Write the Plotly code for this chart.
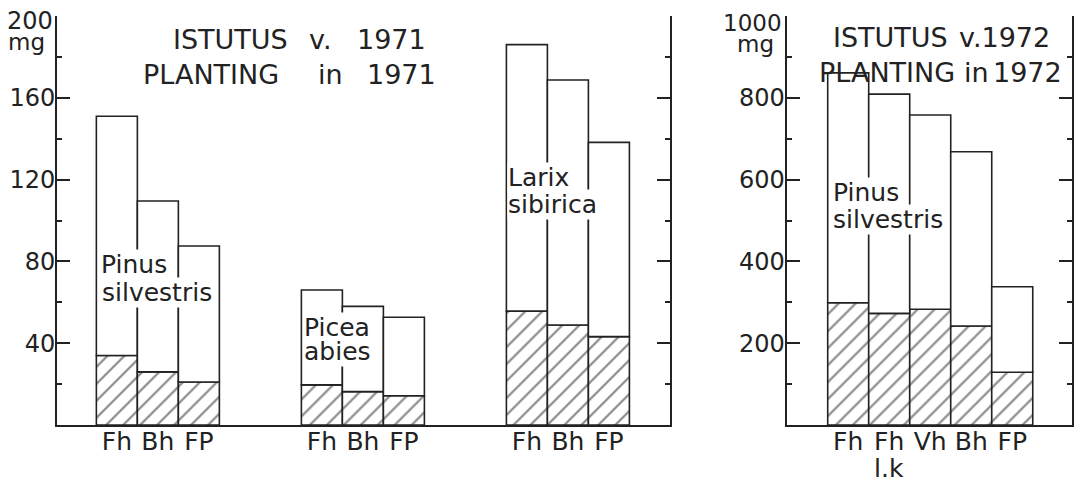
import plotly.graph_objects as go

# Dry mass (mg) per horizon; hatched part is the lower share of each bar
horizons_1971 = ["Fh", "Bh", "FP"]
pinus_1971_total = [151, 109.5, 87.5]
pinus_1971_hatched = [34, 26, 21]
picea_1971_total = [66, 58, 52.7]
picea_1971_hatched = [19.6, 16.3, 14.3]
larix_1971_total = [186, 168.7, 138.2]
larix_1971_hatched = [55.7, 48.9, 43.2]

horizons_1972 = ["Fh", "Fh", "Vh", "Bh", "FP"]
horizons_1972_sub = ["", "l.k", "", "", ""]
pinus_1972_total = [861, 809, 758, 668, 338]
pinus_1972_hatched = [299, 273, 283, 242, 129]

ytick_1971 = [40, 80, 120, 160, 200]
ytick_1972 = [200, 400, 600, 800, 1000]

W, H = 1080, 483
INK = "#222222"
FONT = "DejaVu Sans"


def px(x):
    return x / W


def py(y):
    return 1 - y / H


fig = go.Figure()


def add_bars(xs, totals, hatched, xaxis, yaxis):
    upper = [t - h for t, h in zip(totals, hatched)]
    fig.add_trace(go.Bar(
        x=xs, y=hatched, width=1, xaxis=xaxis, yaxis=yaxis,
        marker=dict(color="white", line=dict(color=INK, width=1.6),
                    pattern=dict(shape="/", fgcolor="#111111", bgcolor="white",
                                 size=12, solidity=0.18)),
        showlegend=False, hoverinfo="skip"))
    fig.add_trace(go.Bar(
        x=xs, y=upper, base=hatched, width=1, xaxis=xaxis, yaxis=yaxis,
        marker=dict(color="white", line=dict(color=INK, width=1.6)),
        showlegend=False, hoverinfo="skip"))


# 1971 panel: three species groups, spaced by two empty slots
groups_1971 = [
    (pinus_1971_total, pinus_1971_hatched),
    (picea_1971_total, picea_1971_hatched),
    (larix_1971_total, larix_1971_hatched),
]
xs_1971, labels_1971 = [], []
for gi, (tot, hat) in enumerate(groups_1971):
    xs = [gi * 5 + j for j in range(len(horizons_1971))]
    add_bars(xs, tot, hat, "x", "y")
    xs_1971 += xs
    labels_1971 += horizons_1971

xs_1972 = list(range(len(horizons_1972)))
add_bars(xs_1972, pinus_1972_total, pinus_1972_hatched, "x2", "y2")

axis_common = dict(showline=True, linecolor=INK, linewidth=2, showgrid=False,
                   zeroline=False, fixedrange=True, automargin=False)
ydom = [py(425), py(16)]

fig.update_layout(
    width=W, height=H, margin=dict(l=0, r=0, t=0, b=0),
    paper_bgcolor="white", plot_bgcolor="white", barmode="overlay",
    font=dict(family=FONT, color=INK),
    xaxis=dict(domain=[px(57), px(670)], range=[-1.46, 13.49], ticks="",
               tickvals=xs_1971, ticktext=labels_1971, anchor="y",
               tickfont=dict(size=25, family=FONT, color=INK),
               ticklabelstandoff=-7, **axis_common),
    yaxis=dict(domain=ydom, range=[0, 200], anchor="x", mirror="ticks",
               ticks="inside", ticklen=13, tickwidth=2, tickcolor=INK,
               tickvals=ytick_1971,
               ticktext=[str(v) for v in ytick_1971[:-1]] + [""],
               tickfont=dict(size=24, family=FONT, color=INK),
               ticklabelstandoff=-5,
               minor=dict(ticks="inside", ticklen=5, tickwidth=1.5,
                          tickcolor=INK, dtick=20, tick0=0, showgrid=False),
               **axis_common),
    xaxis2=dict(domain=[px(786.7), px(1071.7)], range=[-1.5, 5.45], ticks="",
                tickvals=xs_1972, ticktext=horizons_1972, anchor="y2",
                tickfont=dict(size=25, family=FONT, color=INK),
                ticklabelstandoff=-7, **axis_common),
    yaxis2=dict(domain=ydom, range=[0, 1000], anchor="x2", mirror="ticks",
                ticks="inside", ticklen=13, tickwidth=2, tickcolor=INK,
                tickvals=ytick_1972,
                ticktext=[str(v) for v in ytick_1972[:-1]] + [""],
                tickfont=dict(size=24, family=FONT, color=INK),
                ticklabelstandoff=-5,
                minor=dict(ticks="inside", ticklen=5, tickwidth=1.5,
                           tickcolor=INK, dtick=100, tick0=0, showgrid=False),
                **axis_common),
)


def note(text, x, yc, size, anchor="left", bg=None):
    fig.add_annotation(text=text, x=px(x), y=py(yc), xref="paper", yref="paper",
                       xanchor=anchor, yanchor="middle", showarrow=False,
                       font=dict(size=size, family=FONT, color=INK),
                       bgcolor=bg if bg else "rgba(0,0,0,0)", borderpad=0)


# Second line of the horizon labels
for xv, sub in zip(xs_1972, horizons_1972_sub):
    if sub:
        fig.add_annotation(text=sub, x=xv, xref="x2", y=py(468.5), yref="paper",
                           xanchor="center", yanchor="middle", showarrow=False,
                           font=dict(size=25, family=FONT, color=INK))

# Axis top labels with unit
note(str(ytick_1971[-1]), 54, 21.5, 24, "right")
note("mg", 7, 42, 23)
note(str(ytick_1972[-1]), 783, 22.5, 23, "right")
note("mg", 736, 44, 23)

# Panel headings
note("ISTUTUS", 172, 40, 27)
note("v.", 308, 40, 27)
note("1971", 356, 40, 27)
note("PLANTING", 142, 74, 27)
note("in", 317, 74, 27)
note("1971", 366, 74, 27)
note("ISTUTUS", 832, 37.5, 27)
note("v.1972", 958, 37.5, 27)
note("PLANTING", 818, 72, 27)
note("in", 963, 72, 27)
note("1972", 992, 72, 27)

# Species names inside the bar groups
note("Pinus", 100, 264.5, 25, bg="white")
note("silvestris", 101, 292, 25, bg="white")
note("Picea", 303, 327.5, 25, bg="white")
note("abies", 303, 351, 25, bg="white")
note("Larix", 507, 178, 25, bg="white")
note("sibirica", 507, 204, 25, bg="white")
note("Pinus", 832, 192.5, 25, bg="white")
note("silvestris", 832, 219, 25, bg="white")

fig.write_html("out.html")
